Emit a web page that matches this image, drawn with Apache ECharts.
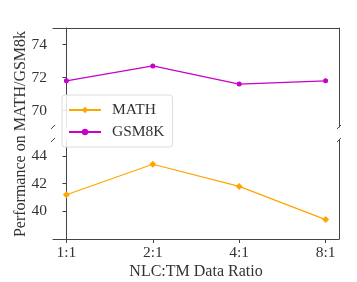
<!DOCTYPE html>
<html><head><meta charset="utf-8">
<script src="https://cdn.jsdelivr.net/npm/echarts@6/dist/echarts.min.js"></script>
<style>html,body{margin:0;padding:0;background:#fff}#c{width:357px;height:282px}</style>
</head><body><div id="c"></div>
<script>
const categories = ['1:1', '2:1', '4:1', '8:1'];
const mathValues = [41.2, 43.4, 41.8, 39.4];
const gsmValues = [71.8, 72.7, 71.6, 71.8];
const topTicks = [70, 72, 74];
const bottomTicks = [40, 42, 44];
const xTicks = [0, 1, 2, 3];

const FONT = 'Liberation Serif';
const AX = '#444';
const TXT = '#333';
const orange = '#FFA500';
const magenta = '#C800C8';

const chart = echarts.init(document.getElementById('c'), null, {renderer: 'canvas'});
const G = {left: 53, right: 18, h: 99};
const xBase = {type: 'value', min: -0.155, max: 3.155, splitLine: {show: false}};
const yBase = {type: 'value', splitLine: {show: false}, axisLine: {show: true, lineStyle: {color: AX}}};

const option = {
  animation: false,
  textStyle: {fontFamily: FONT},
  grid: [
    {left: G.left, right: G.right, top: 28, height: G.h},
    {left: G.left, right: G.right, top: 140, height: G.h}
  ],
  xAxis: [
    Object.assign({}, xBase, {gridIndex: 0, position: 'top', axisLine: {show: true, lineStyle: {color: AX}},
      axisTick: {show: false}, axisLabel: {show: false}}),
    Object.assign({}, xBase, {gridIndex: 1, position: 'bottom', axisLine: {show: true, onZero: false, lineStyle: {color: AX}},
      axisTick: {show: true, length: 4, lineStyle: {color: AX}, customValues: xTicks},
      axisLabel: {show: true, customValues: xTicks, formatter: v => categories[Math.round(v)], color: TXT, fontSize: 15.5, fontFamily: FONT, margin: 6},
      name: 'NLC:TM Data Ratio', nameLocation: 'middle', nameGap: 25,
      nameTextStyle: {fontSize: 16, color: TXT, fontFamily: FONT}})
  ],
  yAxis: [
    Object.assign({}, yBase, {gridIndex: 0, min: 69, max: 75, position: 'left',
      axisTick: {show: true, length: 4, lineStyle: {color: AX}, customValues: topTicks},
      axisLabel: {customValues: topTicks, color: TXT, fontSize: 15.5, fontFamily: FONT, margin: 6}}),
    Object.assign({}, yBase, {gridIndex: 1, min: 38, max: 45.15, position: 'left',
      axisTick: {show: true, length: 4, lineStyle: {color: AX}, customValues: bottomTicks},
      axisLabel: {customValues: bottomTicks, color: TXT, fontSize: 15.5, fontFamily: FONT, margin: 6}}),
    Object.assign({}, yBase, {gridIndex: 0, min: 69, max: 75, position: 'right', axisTick: {show: false}, axisLabel: {show: false}}),
    Object.assign({}, yBase, {gridIndex: 1, min: 38, max: 45.15, position: 'right', axisTick: {show: false}, axisLabel: {show: false}})
  ],
  legend: {
    orient: 'vertical', left: 62, top: 95,
    data: ['MATH', 'GSM8K'],
    itemWidth: 32, itemHeight: 8, itemGap: 6,
    padding: [7, 8, 7, 6],
    borderColor: '#ddd', borderWidth: 1, borderRadius: 3,
    backgroundColor: 'rgba(255,255,255,0.85)',
    textStyle: {fontSize: 15.5, color: TXT, fontFamily: FONT, padding: [0, 0, 0, 6]}
  },
  series: [
    {name: 'MATH', type: 'line', xAxisIndex: 1, yAxisIndex: 1,
      data: mathValues.map((v, i) => [i, v]), symbol: 'diamond', symbolSize: 7,
      itemStyle: {color: orange}, lineStyle: {color: orange, width: 1.2}, z: 5},
    {name: 'GSM8K', type: 'line', xAxisIndex: 0, yAxisIndex: 0,
      data: gsmValues.map((v, i) => [i, v]), symbol: 'circle', symbolSize: 5,
      itemStyle: {color: magenta}, lineStyle: {color: magenta, width: 1.2}, z: 5}
  ],
  graphic: [
    {type: 'text', x: 21, y: 134, rotation: Math.PI / 2,
      style: {text: 'Performance on MATH/GSM8k', fontSize: 16, fill: TXT, fontFamily: FONT, align: 'center', verticalAlign: 'middle'}}
  ]
};
chart.setOption(option);

// broken-axis marks at the gap edges
const gTop = chart.getModel().getComponent('grid', 0).coordinateSystem.getRect();
const gBot = chart.getModel().getComponent('grid', 1).coordinateSystem.getRect();
const marks = [];
[gTop.x, gTop.x + gTop.width].forEach(x => {
  [gTop.y + gTop.height, gBot.y].forEach(y => {
    marks.push({type: 'line', shape: {x1: x - 2, y1: y + 2, x2: x + 2, y2: y - 2}, style: {stroke: AX, lineWidth: 1}});
  });
});
chart.setOption({graphic: option.graphic.concat(marks)});
</script></body></html>
